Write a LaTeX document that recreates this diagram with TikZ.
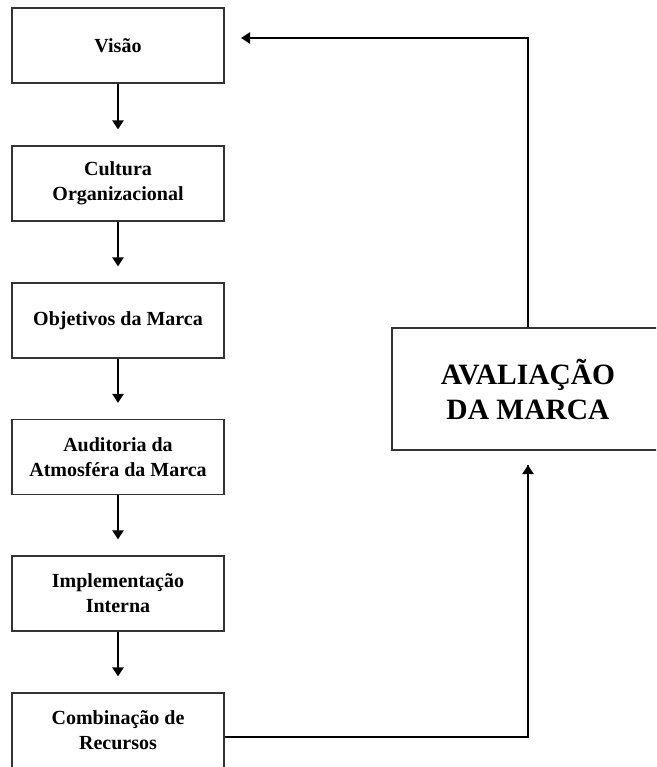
\documentclass[tikz,border=0pt]{standalone}
\usepackage{fontspec}
\setmainfont{Liberation Serif}
\usetikzlibrary{arrows.meta}

\tikzset{
  stepbox/.style={draw=black!80, line width=1.2pt, fill=white,
    minimum width=212pt, minimum height=75pt, inner sep=0pt,
    align=center, font=\bfseries\fontsize{20}{25}\selectfont},
  bigbox/.style={draw=black!80, line width=1.2pt, fill=white,
    minimum width=272pt, minimum height=122pt, inner sep=0pt,
    align=center, font=\bfseries\fontsize{29.5}{35}\selectfont},
  flow/.style={line width=2.4pt, -{Triangle[length=9pt,width=11pt]}},
  link/.style={line width=2.4pt}
}

\begin{document}
\begin{tikzpicture}[x=1pt,y=-1pt]
  \useasboundingbox (0,0) rectangle (656,767);
  \clip (0,0) rectangle (656,767);

  % left column of steps
  \node[stepbox] (visao) at (118,45.5) {Visão};
  \node[stepbox] (cultura) at (118,183.5) {Cultura\\Organizacional};
  \node[stepbox] (objetivos) at (118,320.5) {Objetivos da Marca};
  \node[stepbox] (auditoria) at (118,457) {Auditoria da\\Atmosféra da Marca};
  \node[stepbox] (implementacao) at (118,593.5) {Implementação\\Interna};
  \node[stepbox] (combinacao) at (118,730.5) {Combinação de\\Recursos};

  % evaluation box on the right
  \node[bigbox] (avaliacao) at (528,389) {AVALIAÇÃO\\DA MARCA};

  % downward arrows between steps
  \foreach \a/\b in {visao/cultura, cultura/objetivos, objetivos/auditoria,
                     auditoria/implementacao, implementacao/combinacao}
    \draw[flow, shorten >=16pt] (\a.south) -- (\b.north);

  % feedback loop
  \coordinate (topend) at (241,38);
  \coordinate (botend) at (528,465);
  \draw[link] (combinacao.east |- 0,737) -| (botend);
  \draw[flow] (528,737) -- (botend);
  \draw[flow] (avaliacao.north) |- (topend);
\end{tikzpicture}
\end{document}
